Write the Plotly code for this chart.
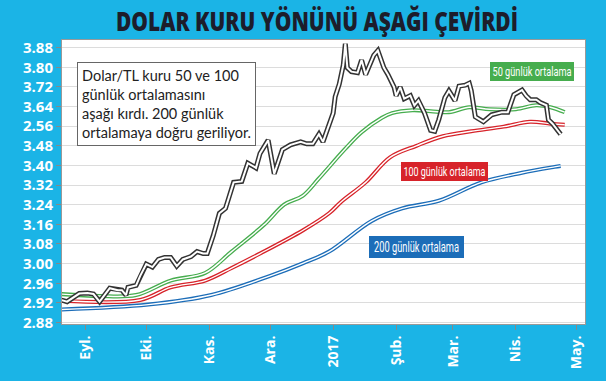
import plotly.graph_objects as go

# ---- data (y in the chart's own equally-spaced axis units; bottom labels follow the graphic) ----
price_dates = ["2016-08-20","2016-08-23","2016-08-29","2016-09-02","2016-09-05","2016-09-08","2016-09-13",
               "2016-09-17","2016-09-19","2016-09-21","2016-09-22","2016-09-26","2016-09-28","2016-10-01",
               "2016-10-04","2016-10-07","2016-10-10","2016-10-13","2016-10-16","2016-10-19","2016-10-23",
               "2016-10-26","2016-10-29","2016-10-31","2016-11-03","2016-11-06","2016-11-09","2016-11-13",
               "2016-11-17","2016-11-20","2016-11-24","2016-11-26","2016-11-30","2016-12-03","2016-12-07",
               "2016-12-11","2016-12-16","2016-12-19","2016-12-22","2016-12-25","2016-12-27","2016-12-30",
               "2017-01-01","2017-01-02","2017-01-04","2017-01-06","2017-01-07","2017-01-08","2017-01-10",
               "2017-01-13","2017-01-15","2017-01-17","2017-01-21","2017-01-23","2017-01-26","2017-01-28",
               "2017-01-31","2017-02-01","2017-02-03","2017-02-05","2017-02-08","2017-02-10","2017-02-12",
               "2017-02-15","2017-02-18","2017-02-20","2017-02-22","2017-02-25","2017-02-27","2017-03-02",
               "2017-03-04","2017-03-07","2017-03-09","2017-03-10","2017-03-12","2017-03-16","2017-03-20",
               "2017-03-25","2017-03-28","2017-03-31","2017-04-04","2017-04-06","2017-04-08","2017-04-11",
               "2017-04-13","2017-04-16","2017-04-17","2017-04-19","2017-04-23"]
price_vals = [2.852,2.845,2.878,2.880,2.876,2.845,2.900,
              2.892,2.892,2.872,2.903,2.911,2.950,2.998,
              2.986,3.017,3.025,3.025,2.990,3.017,3.029,
              3.049,3.041,3.041,3.115,3.205,3.225,3.331,
              3.335,3.409,3.390,3.449,3.503,3.366,3.464,
              3.484,3.496,3.488,3.488,3.527,3.496,3.566,
              3.613,3.680,3.731,3.809,3.896,3.798,3.782,
              3.778,3.829,3.770,3.849,3.868,3.798,3.770,
              3.719,3.684,3.719,3.672,3.684,3.645,3.664,
              3.613,3.543,3.539,3.586,3.676,3.704,3.664,
              3.723,3.727,3.735,3.704,3.598,3.578,3.606,
              3.617,3.617,3.688,3.707,3.684,3.668,3.668,
              3.656,3.645,3.586,3.570,3.527]

ma50_dates = ["2016-08-20","2016-09-08","2016-09-26","2016-10-13","2016-10-30","2016-11-12","2016-11-28",
              "2016-12-08","2016-12-17","2016-12-25","2017-01-07","2017-01-15","2017-01-25","2017-01-30",
              "2017-02-09","2017-02-18","2017-02-27","2017-03-09","2017-03-19","2017-04-01","2017-04-11",
              "2017-04-18","2017-04-25"]
ma50_vals = [2.876,2.868,2.872,2.931,2.962,3.049,3.158,
             3.241,3.276,3.347,3.468,3.535,3.594,3.613,
             3.625,3.621,3.617,3.637,3.629,3.629,3.645,
             3.637,3.617]

ma100_dates = ["2016-08-20","2016-09-28","2016-10-13","2016-10-30","2016-11-12","2016-11-26","2016-12-17",
               "2016-12-30","2017-01-05","2017-01-17","2017-01-29","2017-02-11","2017-02-24","2017-03-10",
               "2017-03-26","2017-04-08","2017-04-18","2017-04-25"]
ma100_vals = [2.849,2.852,2.903,2.931,2.982,3.041,3.135,
              3.205,3.252,3.331,3.433,3.480,3.519,3.539,
              3.558,3.578,3.570,3.566]

ma200_dates = ["2016-08-20","2016-10-02","2016-11-02","2016-12-01","2016-12-17","2016-12-30","2017-01-20",
               "2017-02-04","2017-02-22","2017-03-15","2017-04-04","2017-04-20","2017-04-23"]
ma200_vals = [2.813,2.833,2.872,2.950,3.001,3.049,3.174,
              3.225,3.256,3.331,3.370,3.394,3.398]

y_tickvals = [3.88,3.80,3.72,3.64,3.56,3.48,3.40,3.32,3.24,3.16,3.08,3.00,2.92,2.84,2.76]
y_ticktext = ["3.88","3.80","3.72","3.64","2.56","3.48","3.40","3.32","3.24","3.16","3.08","3.00","2.96","2.92","2.88"]
x_tickvals = ["2016-09-01","2016-10-01","2016-11-01","2016-12-01","2017-01-01","2017-02-01","2017-03-01","2017-04-01","2017-05-01"]
x_ticktext = ["Eyl.","Eki.","Kas.","Ara.","2017","Şub.","Mar.","Nis.","May."]

title_text = "DOLAR KURU YÖNÜNÜ AŞAĞI ÇEVİRDİ"
note_text = "Dolar/TL kuru 50 ve 100<br>günlük ortalamasını<br>aşağı kırdı. 200 günlük<br>ortalamaya doğru geriliyor."
label50 = "50 günlük ortalama"
label100 = "100 günlük ortalama"
label200 = "200 günlük ortalama"

CYAN = "#1BB4E6"
GREEN = "#46AD4E"
RED = "#D7232A"
BLUE = "#1C6DB8"
DARK = "#333333"

fig = go.Figure()

def double_line(x, y, color, outer, inner, shape="linear"):
    fig.add_trace(go.Scatter(x=x, y=y, mode="lines", line=dict(color=color, width=outer, shape=shape),
                             hoverinfo="skip", showlegend=False))
    fig.add_trace(go.Scatter(x=x, y=y, mode="lines", line=dict(color="white", width=inner, shape=shape),
                             hoverinfo="skip", showlegend=False))

double_line(ma200_dates, ma200_vals, BLUE, 4, 1.4, "spline")
double_line(ma100_dates, ma100_vals, RED, 4, 1.4, "spline")
double_line(ma50_dates, ma50_vals, GREEN, 4, 1.4, "spline")
double_line(price_dates, price_vals, DARK, 5, 2, "linear")

L, R, T, B = 62, 21, 40, 46
W, H = 606, 381
pw, ph = W - L - R, H - T - B

def px(x):
    return (x - L) / pw

def py(y):
    return (H - B - y) / ph

fig.update_layout(
    width=W, height=H,
    margin=dict(l=L, r=R, t=T, b=B),
    paper_bgcolor=CYAN, plot_bgcolor="white",
    title=dict(text=title_text, x=317 / W, xanchor="center", y=1 - 22 / H, yanchor="middle",
               font=dict(family="Open Sans", size=27, color="#1d1d2b", weight=800)),
    xaxis=dict(type="date", range=["2016-08-20 12:00", "2017-05-05"],
               tickvals=x_tickvals, ticktext=x_ticktext, tickangle=-90,
               tickfont=dict(family="Open Sans", size=14, color="white", weight="bold"),
               ticks="outside", ticklen=5, tickcolor="#888", showgrid=False,
               showline=True, linecolor="#999", linewidth=1, mirror=True, zeroline=False),
    yaxis=dict(range=[2.754, 3.911], tickvals=y_tickvals, ticktext=y_ticktext,
               tickfont=dict(family="Open Sans", size=15, color="white", weight="bold"),
               ticks="outside", ticklen=5, tickcolor="#888",
               showgrid=True, gridcolor="#dcdcdc", gridwidth=1,
               showline=True, linecolor="#999", linewidth=1, mirror=True, zeroline=False),
    showlegend=False,
)

fig.add_annotation(xref="paper", yref="paper", x=px(77), y=py(63), xanchor="left", yanchor="top",
                   text=note_text, showarrow=False, align="left",
                   font=dict(family="Lato", size=14.5, color="#222"),
                   bgcolor="white", bordercolor="#666", borderwidth=1, borderpad=4)

for txt, color, x0, y0, w, h, fs in [(label50, GREEN, 490, 63, 84, 19, 13),
                                     (label100, RED, 401, 167, 87, 19, 13),
                                     (label200, BLUE, 369, 244, 95, 22, 14)]:
    fig.add_annotation(xref="paper", yref="paper", x=px(x0), y=py(y0), xanchor="left", yanchor="top",
                       text=txt, showarrow=False, width=w - 2, height=h - 2, align="center", valign="middle",
                       font=dict(family="Roboto", size=fs, color="white"),
                       bgcolor=color, borderpad=0, borderwidth=1, bordercolor=color)

# remove the page margin, and squeeze the condensed texts (title, label boxes) as in the original typeface
post = """
document.documentElement.style.margin = '0';
document.body.style.margin = '0';
document.body.style.overflow = 'hidden';
var gd = document.getElementById('{plot_id}');
var fit = {"DOLAR KURU YÖNÜNÜ AŞAĞI ÇEVİRDİ": 402, "50 günlük ortalama": 79,
           "100 günlük ortalama": 82, "200 günlük ortalama": 85};
function squeeze(){
  gd.querySelectorAll('text').forEach(function(el){
    var k = (el.textContent || '').replace(/\\u00a0/g, ' ').trim();
    if (fit[k]) { el.setAttribute('textLength', fit[k]); el.setAttribute('lengthAdjust', 'spacingAndGlyphs'); }
  });
}
squeeze();
gd.on('plotly_afterplot', squeeze);
"""

fig.write_html("out.html", post_script=post, config={"displayModeBar": False})
